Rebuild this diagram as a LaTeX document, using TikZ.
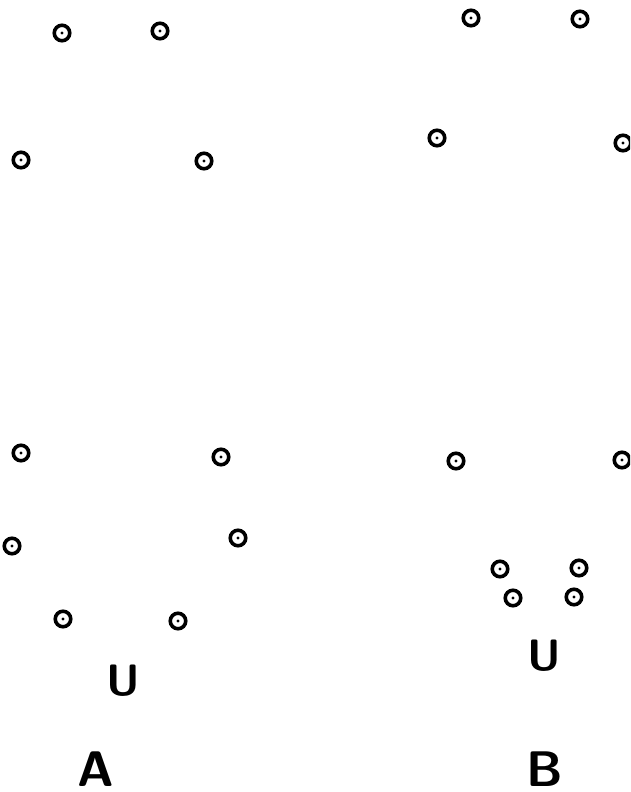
\documentclass[tikz,border=0pt]{standalone}
\usepackage{tikz}

\tikzset{
  pin/.style={circle,draw=black,line width=3.6pt,minimum size=15.5pt,inner sep=0pt,
    path picture={\fill[black] (path picture bounding box.center) circle (1.7pt);}},
  tag/.style={inner sep=0pt,font=\sffamily\bfseries\fontsize{44}{44}\selectfont},
  bigtag/.style={inner sep=0pt,anchor=base,text depth=0pt,font=\sffamily\bfseries\fontsize{50}{50}\selectfont}
}

\begin{document}
\begin{tikzpicture}[x=1pt,y=-1pt]
  \useasboundingbox (0,0) rectangle (630,792);
  \clip (0,0) rectangle (630,792);

  % A, upper part
  \foreach \name/\px/\py in {a1/62/33, a2/160/31, a3/21/160, a4/204/161}{
    \node[pin] (\name) at (\px,\py) {};
  }
  % B, upper part
  \foreach \name/\px/\py in {b1/471/18, b2/580/19, b3/437/138, b4/623/143}{
    \node[pin] (\name) at (\px,\py) {};
  }

  % A, lower part
  \foreach \name/\px/\py in {a5/21/453, a6/221/457, a7/12/546, a8/238/538, a9/63/619, a10/178/621}{
    \node[pin] (\name) at (\px,\py) {};
  }
  \node[tag] (ua) at (123,681) {U};
  \node[bigtag] (la) at (96,786) {A};

  % B, lower part
  \foreach \name/\px/\py in {b5/456/461, b6/622/460, b7/500/569, b8/579/568, b9/513/598, b10/574/597}{
    \node[pin] (\name) at (\px,\py) {};
  }
  \node[tag] (ub) at (544,656) {U};
  \node[bigtag] (lb) at (545,786) {B};
\end{tikzpicture}
\end{document}
